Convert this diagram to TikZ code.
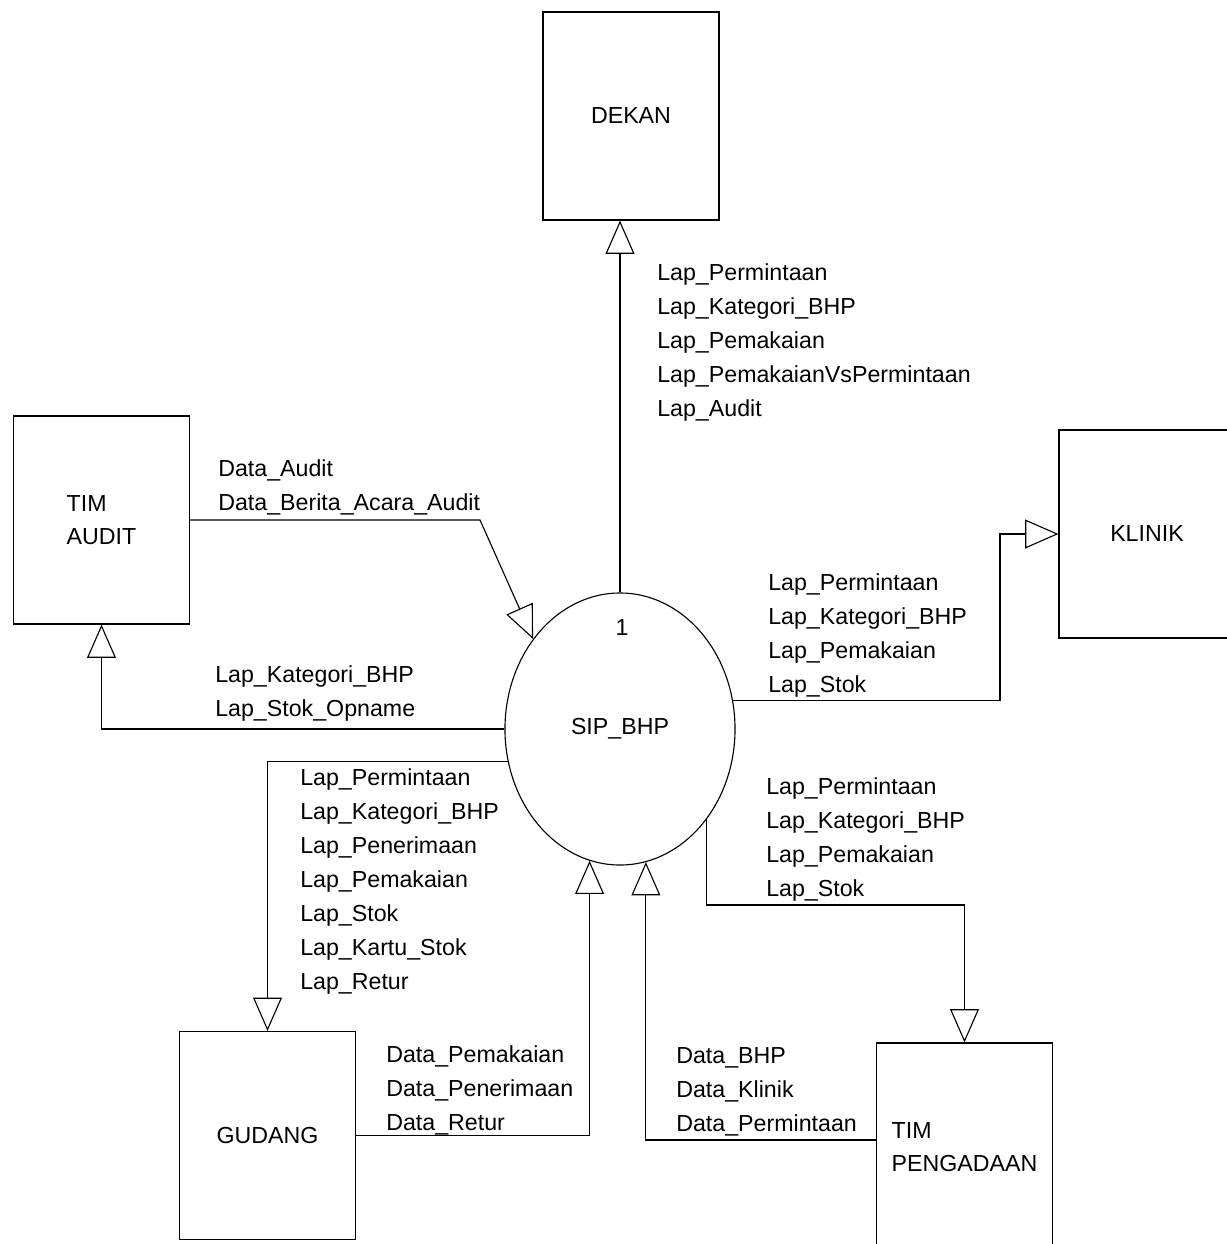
\documentclass[tikz,border=0pt]{standalone}
\usepackage{fontspec}
\setmainfont{Liberation Sans}
\usetikzlibrary{shapes,arrows.meta,calc,positioning}

\begin{document}
\begin{tikzpicture}[x=0.025cm,y=-0.025cm]

    \tikzstyle{ent} = [draw, line width=0.8pt, minimum width=4.4cm, minimum height=5.2cm,
        align=left, font=\fontsize{16.5}{24}\selectfont]

    \tikzstyle{proc} = [draw, ellipse, line width=0.8pt, minimum width=5.75cm, minimum height=6.8cm,
        font=\fontsize{16.5}{24}\selectfont]

    \tikzstyle{ann} = [anchor=north west, inner sep=0pt, align=left,
        font=\fontsize{16.5}{24.2}\selectfont]

    \tikzstyle{flow} = [line width=0.8pt, -{Triangle[open, length=0.83cm, width=0.72cm]}]

    \useasboundingbox (0,0) rectangle (1227,1244);

    % Process
    \node [proc] (sip) at (620,729) {SIP\_BHP};
    \node [font=\fontsize{16.5}{24}\selectfont] (num) at (622,628) {1};

    % External entities
    \node [ent] (dekan) at (631,116) {DEKAN};
    \node [ent] (audit) at (101.5,520) {TIM\\AUDIT};
    \node [ent] (klinik) at (1147,534) {KLINIK};
    \node [ent] (gudang) at (267.5,1135.5) {GUDANG};
    \node [ent] (peng) at (964.5,1147) {TIM\\PENGADAAN};

    % Bends
    \coordinate (abend) at (480,518);
    \coordinate (kbend) at (1000,534);
    \coordinate (pbend) at (964.5,905);

    % Flows
    \draw [flow] (sip.north) -- (sip.north |- dekan.south);
    \draw [flow] (audit.east) -- (audit.east -| abend) -- (sip.134);
    \draw [flow] (sip.west) -| (audit.south);
    \draw [flow] (sip.14) -| (kbend) -- (klinik.west);
    \draw [flow] (sip.196) -| (gudang.north);
    \draw [flow] (gudang.east) -| (sip.257);
    \draw [flow] ([yshift=0.175cm]peng.west) -| (sip.281);
    \draw [flow] (sip.314) |- (pbend) -- (peng.north);

    % Labels
    \node [ann] (ldekan) at (657,263) {Lap\_Permintaan\\Lap\_Kategori\_BHP\\Lap\_Pemakaian\\Lap\_PemakaianVsPermintaan\\Lap\_Audit};
    \node [ann] (laudit1) at (218,459) {Data\_Audit\\Data\_Berita\_Acara\_Audit};
    \node [ann] (laudit2) at (215,665) {Lap\_Kategori\_BHP\\Lap\_Stok\_Opname};
    \node [ann] (lklinik) at (768,573) {Lap\_Permintaan\\Lap\_Kategori\_BHP\\Lap\_Pemakaian\\Lap\_Stok};
    \node [ann] (lgudang1) at (300,768) {Lap\_Permintaan\\Lap\_Kategori\_BHP\\Lap\_Penerimaan\\Lap\_Pemakaian\\Lap\_Stok\\Lap\_Kartu\_Stok\\Lap\_Retur};
    \node [ann] (lgudang2) at (386,1045) {Data\_Pemakaian\\Data\_Penerimaan\\Data\_Retur};
    \node [ann] (lpeng1) at (676,1047) {Data\_BHP\\Data\_Klinik\\Data\_Permintaan};
    \node [ann] (lpeng2) at (766,777) {Lap\_Permintaan\\Lap\_Kategori\_BHP\\Lap\_Pemakaian\\Lap\_Stok};

\end{tikzpicture}
\end{document}
